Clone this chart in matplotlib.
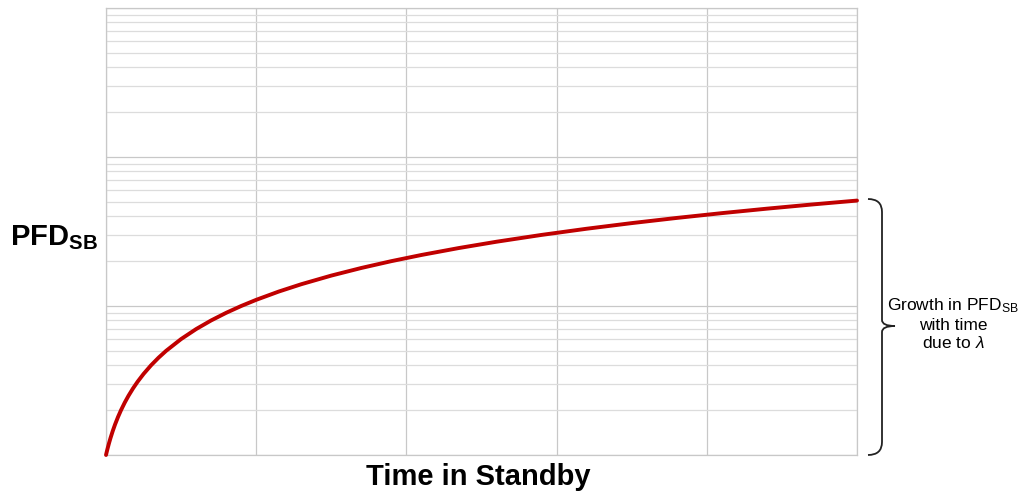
import matplotlib
matplotlib.use("Agg")
import matplotlib.pyplot as plt
from matplotlib.path import Path
from matplotlib.patches import PathPatch
from matplotlib.ticker import LogLocator, MultipleLocator, NullFormatter

plt.rcParams['font.family'] = ['Liberation Sans', 'DejaVu Sans']
plt.rcParams['mathtext.fontset'] = 'custom'
plt.rcParams['mathtext.rm'] = 'Liberation Sans'
plt.rcParams['mathtext.it'] = 'Liberation Sans:italic'
plt.rcParams['mathtext.bf'] = 'Liberation Sans:bold'

# Time in standby (arbitrary units) and PFD_SB values
time_standby = [0.0, 0.005, 0.01, 0.02, 0.03, 0.045, 0.06, 0.08, 0.10, 0.125, 0.15,
                0.18, 0.21, 0.25, 0.30, 0.35, 0.40, 0.50, 0.60, 0.70, 0.80, 0.90,
                1.0, 1.15, 1.3, 1.5, 1.7, 1.9, 2.1, 2.35, 2.6, 2.9, 3.2, 3.5, 3.8,
                4.1, 4.4, 4.7, 5.0]
pfd_sb = [1.0e-4, 1.05e-4, 1.1e-4, 1.2e-4, 1.3e-4, 1.45e-4, 1.6e-4, 1.8e-4, 2.0e-4,
          2.25e-4, 2.5e-4, 2.8e-4, 3.1e-4, 3.5e-4, 4.0e-4, 4.5e-4, 5.0e-4, 6.0e-4,
          7.0e-4, 8.0e-4, 9.0e-4, 1.0e-3, 1.1e-3, 1.25e-3, 1.4e-3, 1.6e-3, 1.8e-3,
          2.0e-3, 2.2e-3, 2.45e-3, 2.7e-3, 3.0e-3, 3.3e-3, 3.6e-3, 3.9e-3, 4.2e-3,
          4.5e-3, 4.8e-3, 5.1e-3]

x_limits = (0, 5)
y_limits = (1e-4, 1e-1)

W, H = 1024, 494
fig = plt.figure(figsize=(W / 100, H / 100), dpi=100)
ax = fig.add_axes([106 / W, 1 - 455 / H, (857 - 106) / W, (455 - 8) / H])

ax.set_yscale('log')
ax.set_xlim(*x_limits)
ax.set_ylim(*y_limits)
ax.xaxis.set_major_locator(MultipleLocator(1))
ax.yaxis.set_major_locator(LogLocator(base=10, numticks=10))
ax.yaxis.set_minor_locator(LogLocator(base=10, subs=range(2, 10), numticks=20))
ax.grid(True, which='major', axis='both', color='#c8c8c8', lw=0.9)
ax.grid(True, which='minor', axis='y', color='#dcdcdc', lw=0.9)
ax.tick_params(which='both', length=0, labelleft=False, labelbottom=False)
ax.yaxis.set_minor_formatter(NullFormatter())
for s in ax.spines.values():
    s.set_color('#c8c8c8')
    s.set_linewidth(0.9)

ax.plot(time_standby, pfd_sb, color='#c00000', lw=2.8, solid_capstyle='round',
        solid_joinstyle='round', clip_on=False, zorder=5)

fig.text(10 / W, 1 - 238 / H, r'$\mathbf{PFD}_{\mathbf{SB}}$', fontsize=21,
         ha='left', va='center')
fig.text(478 / W, 1 - 477 / H, 'Time in Standby', fontsize=21, fontweight='bold',
         ha='center', va='center')

# brace
def fp(px, py):
    return (px / W, 1 - py / H)

verts = [fp(868, 199), fp(882, 199), fp(882, 212),
         fp(882, 320),
         fp(882, 326), fp(895, 326),
         fp(882, 326), fp(882, 332),
         fp(882, 442),
         fp(882, 455), fp(868, 455)]
codes = [Path.MOVETO, Path.CURVE3, Path.CURVE3,
         Path.LINETO,
         Path.CURVE3, Path.CURVE3,
         Path.CURVE3, Path.CURVE3,
         Path.LINETO,
         Path.CURVE3, Path.CURVE3]
brace = PathPatch(Path(verts, codes), transform=fig.transFigure, fill=False,
                  edgecolor='#222222', lw=1.3)
fig.add_artist(brace)

fig.text(953 / W, 1 - 324 / H,
         'Growth in PFD$_{\\mathrm{SB}}$\nwith time\ndue to $\\lambda$',
         fontsize=12.5, ha='center', va='center', linespacing=1.2)

fig.savefig('out.png', dpi=100)
